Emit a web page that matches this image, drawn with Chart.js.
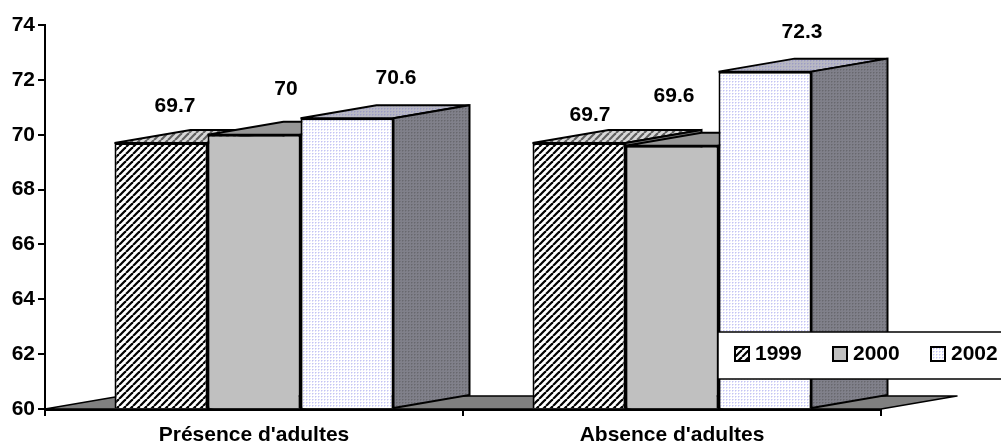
<!DOCTYPE html>
<html lang="fr">
<head>
    <meta charset="UTF-8">
    <title>Présence d'adultes</title>
    <script src="https://cdn.jsdelivr.net/npm/chart.js"></script>
    <style>
        body { margin: 0; background: #fff; }
        canvas { display: block; }
    </style>
</head>
<body>
    <canvas id="barChart" width="1001" height="443"></canvas>

    <script>
        const categories = ["Présence d'adultes", "Absence d'adultes"];
        const years = ['1999', '2000', '2002'];
        const values1999 = [69.7, 69.7];
        const values2000 = [70, 69.6];
        const values2002 = [70.6, 72.3];

        // where each value label sits relative to the top centre of its bar
        const labelShift1999 = [[14, -37], [11, -28]];
        const labelShift2000 = [[32, -46], [2, -49]];
        const labelShift2002 = [[49, -40], [37, -39]];

        const FONT = 'bold 21px "Liberation Sans", Arial, sans-serif';
        const DEPTH_X = 76;
        const DEPTH_Y = 13;

        function tile(size, back, paint) {
            const c = document.createElement('canvas');
            c.width = size;
            c.height = size;
            const g = c.getContext('2d');
            g.fillStyle = back;
            g.fillRect(0, 0, size, size);
            paint(g);
            return document.createElement('canvas').getContext('2d').createPattern(c, 'repeat');
        }

        function hatch(back, ink) {
            return tile(7, back, g => {
                g.strokeStyle = ink;
                g.lineWidth = 2.2;
                for (let i = -7; i <= 14; i += 7) {
                    g.beginPath();
                    g.moveTo(i, 7);
                    g.lineTo(i + 7, 0);
                    g.stroke();
                }
            });
        }

        function dots(back, ink) {
            return tile(3, back, g => {
                g.fillStyle = ink;
                g.fillRect(0, 0, 1, 1);
                g.globalAlpha = 0.5;
                g.fillRect(1, 0, 1, 1);
                g.fillRect(0, 1, 1, 1);
            });
        }

        const fronts = [hatch('#fff', '#000'), '#c0c0c0', dots('#fff', '#c4c4f4')];
        const tops = [hatch('#d8d8d8', '#606060'), '#969696', dots('#b8b8c4', '#9c9cc4')];
        const sides = ['#808080', '#808080', dots('#80808a', '#68686e')];

        function polygon(ctx, pts, fill) {
            ctx.beginPath();
            pts.forEach((p, i) => i ? ctx.lineTo(p[0], p[1]) : ctx.moveTo(p[0], p[1]));
            ctx.closePath();
            ctx.fillStyle = fill;
            ctx.fill();
            ctx.stroke();
        }

        // the library paints series from last to first, this chart needs first to last,
        // so the floor and the three faces of every bar are all painted here
        const depthPlugin = {
            id: 'depth',
            beforeDatasetsDraw(chart) {
                const { ctx, scales: { x, y } } = chart;
                const b = y.getPixelForValue(60);
                ctx.save();
                ctx.strokeStyle = '#000';
                ctx.lineWidth = 1.5;
                ctx.lineJoin = 'round';
                polygon(ctx, [[x.left, b], [x.left + DEPTH_X, b - DEPTH_Y],
                    [x.right + DEPTH_X, b - DEPTH_Y], [x.right, b]], '#808080');
                ctx.lineJoin = 'miter';
                chart.data.datasets.forEach((ds, i) => {
                    chart.getDatasetMeta(i).data.forEach(bar => {
                        const l = bar.x - bar.width / 2;
                        const r = bar.x + bar.width / 2;
                        ctx.strokeStyle = '#000';
                        ctx.lineWidth = 2;
                        polygon(ctx, [[l, bar.y], [l + DEPTH_X, bar.y - DEPTH_Y],
                            [r + DEPTH_X, bar.y - DEPTH_Y], [r, bar.y]], tops[i]);
                        polygon(ctx, [[r, bar.y], [r + DEPTH_X, bar.y - DEPTH_Y],
                            [r + DEPTH_X, bar.base - DEPTH_Y], [r, bar.base]], sides[i]);
                        bar.draw(ctx);
                    });
                });
                ctx.restore();
            },
            beforeDatasetDraw() {
                return false;
            }
        };

        const labelPlugin = {
            id: 'valueLabels',
            afterDatasetsDraw(chart) {
                const ctx = chart.ctx;
                const shifts = [labelShift1999, labelShift2000, labelShift2002];
                ctx.save();
                ctx.font = FONT;
                ctx.fillStyle = '#000';
                ctx.textAlign = 'center';
                ctx.textBaseline = 'middle';
                chart.data.datasets.forEach((ds, i) => {
                    chart.getDatasetMeta(i).data.forEach((bar, j) => {
                        ctx.fillText(String(ds.data[j]), bar.x + shifts[i][j][0], bar.y + shifts[i][j][1]);
                    });
                });
                ctx.restore();
            }
        };

        const legendBoxPlugin = {
            id: 'legendBox',
            afterDraw(chart) {
                const ctx = chart.ctx;
                ctx.save();
                ctx.fillStyle = '#fff';
                ctx.strokeStyle = '#000';
                ctx.lineWidth = 1.5;
                ctx.fillRect(718, 332, 290, 47);
                ctx.strokeRect(718, 332, 290, 47);
                ctx.font = FONT;
                ctx.textBaseline = 'middle';
                chart.data.datasets.forEach((ds, i) => {
                    const x = 735 + i * 98;
                    ctx.fillStyle = ds.backgroundColor;
                    ctx.lineWidth = 2;
                    ctx.fillRect(x, 347, 14, 14);
                    ctx.strokeRect(x, 347, 14, 14);
                    ctx.fillStyle = '#000';
                    ctx.fillText(ds.label, x + 20, 354);
                });
                ctx.restore();
            }
        };

        const seriesValues = [values1999, values2000, values2002];

        new Chart(document.getElementById('barChart').getContext('2d'), {
            type: 'bar',
            data: {
                labels: categories,
                datasets: years.map((year, i) => ({
                    label: year,
                    data: seriesValues[i],
                    base: 60,
                    backgroundColor: fronts[i],
                    borderColor: '#000',
                    borderWidth: 2
                }))
            },
            options: {
                responsive: false,
                animation: false,
                layout: { padding: { top: 25, right: 120, left: 0, bottom: 0 } },
                categoryPercentage: 279 / 418,
                barPercentage: 1,
                scales: {
                    x: {
                        afterFit: s => { s.height = 34; },
                        border: { color: '#000', width: 3 },
                        grid: { drawOnChartArea: false, color: '#000', lineWidth: 2, tickLength: 7 },
                        ticks: { color: '#000', font: { family: '"Liberation Sans", Arial, sans-serif', size: 21, weight: 'bold' }, padding: 7, maxRotation: 0 }
                    },
                    y: {
                        min: 60,
                        max: 74,
                        afterFit: s => { s.width = 45; },
                        border: { color: '#000', width: 2 },
                        grid: { drawOnChartArea: false, color: '#000', lineWidth: 2, tickLength: 7 },
                        ticks: { stepSize: 2, color: '#000', font: { family: '"Liberation Sans", Arial, sans-serif', size: 21, weight: 'bold' }, padding: 3 }
                    }
                },
                plugins: {
                    legend: { display: false },
                    tooltip: { enabled: false }
                }
            },
            plugins: [depthPlugin, labelPlugin, legendBoxPlugin]
        });
    </script>
</body>
</html>
